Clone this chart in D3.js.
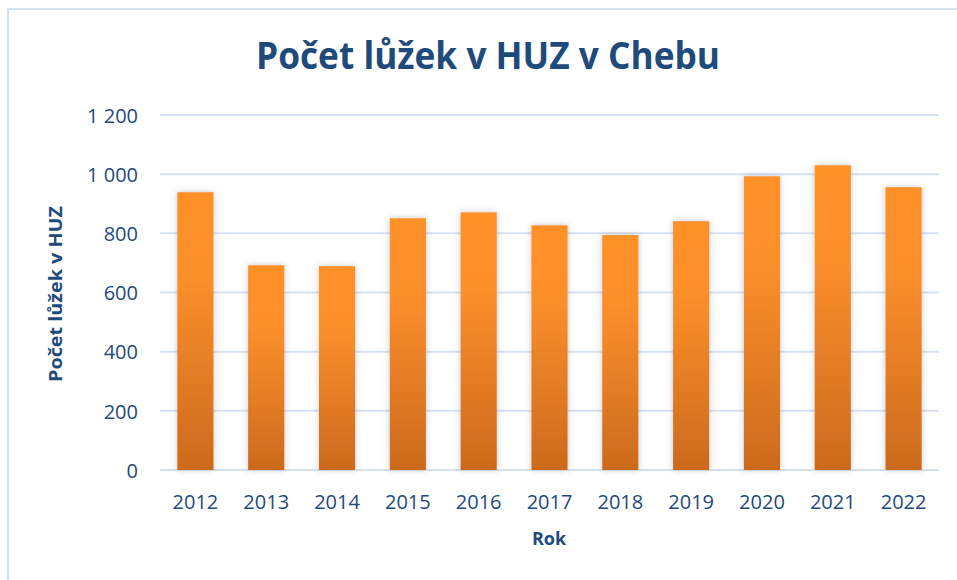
<!DOCTYPE html>
<html>
<head>
<meta charset="utf-8">
<script src="https://cdn.jsdelivr.net/npm/d3@7"></script>
<style>
  html, body { margin: 0; padding: 0; background: #fff; }
  svg { display: block; }
</style>
</head>
<body>
<div id="chart"></div>
<script>
const years = ['2012', '2013', '2014', '2015', '2016', '2017', '2018', '2019', '2020', '2021', '2022'];
const beds = [939, 692, 689, 851, 871, 827, 794, 841, 993, 1030, 956];
const yTicks = [0, 200, 400, 600, 800, 1000, 1200];

const width = 957, height = 580;
const margin = { top: 115, right: 18, bottom: 110, left: 160 };
const textColor = '#1f4a7c';
const font = "'Open Sans', sans-serif";

const svg = d3.select('#chart').append('svg')
  .attr('width', width)
  .attr('height', height)
  .attr('font-family', font);

const defs = svg.append('defs');
const grad = defs.append('linearGradient')
  .attr('id', 'barGrad')
  .attr('x1', 0).attr('y1', 0).attr('x2', 0).attr('y2', 1);
grad.append('stop').attr('offset', '0%').attr('stop-color', '#ff9128');
grad.append('stop').attr('offset', '30%').attr('stop-color', '#fb8f2b');
grad.append('stop').attr('offset', '100%').attr('stop-color', '#cc6a1e');

const shadow = defs.append('filter')
  .attr('id', 'shadow')
  .attr('x', '-30%').attr('y', '-10%').attr('width', '160%').attr('height', '120%');
shadow.append('feDropShadow')
  .attr('dx', 0).attr('dy', 0).attr('stdDeviation', 3)
  .attr('flood-color', '#5a6470').attr('flood-opacity', 0.35);

// chart border (only left/top visible in the picture)
svg.append('rect')
  .attr('x', 8).attr('y', 9)
  .attr('width', width).attr('height', height)
  .attr('fill', 'none')
  .attr('stroke', '#d5e1f1')
  .attr('stroke-width', 2);

const x = d3.scaleBand()
  .domain(years)
  .range([margin.left, width - margin.right])
  .paddingInner(0.49)
  .paddingOuter(0.245);

const y = d3.scaleLinear()
  .domain([0, 1200])
  .range([height - margin.bottom, margin.top]);

const fmt = v => d3.format(',')(v).replace(/,/g, ' ');

// gridlines
svg.append('g')
  .selectAll('line')
  .data(yTicks)
  .join('line')
  .attr('x1', margin.left)
  .attr('x2', width - margin.right)
  .attr('y1', d => y(d))
  .attr('y2', d => y(d))
  .attr('stroke', '#d6e2f0')
  .attr('stroke-width', 2);

// y axis labels
const yAxis = svg.append('g')
  .attr('transform', `translate(${margin.left - 22},0)`)
  .call(d3.axisLeft(y).tickValues(yTicks).tickFormat(fmt).tickSize(0).tickPadding(0));
yAxis.select('.domain').remove();
yAxis.selectAll('text')
  .attr('font-family', font)
  .attr('font-size', 20)
  .attr('fill', textColor)
  .attr('dy', '0.36em');

// bars
svg.append('g')
  .selectAll('rect')
  .data(years)
  .join('rect')
  .attr('x', d => x(d))
  .attr('width', x.bandwidth())
  .attr('y', (d, i) => y(beds[i]))
  .attr('height', (d, i) => y(0) - y(beds[i]))
  .attr('fill', 'url(#barGrad)')
  .attr('filter', 'url(#shadow)');

// x axis labels
const xAxis = svg.append('g')
  .attr('transform', `translate(0,${y(0)})`)
  .call(d3.axisBottom(x).tickSize(0).tickPadding(0));
xAxis.select('.domain').remove();
xAxis.selectAll('text')
  .attr('font-family', font)
  .attr('font-size', 20)
  .attr('fill', textColor)
  .attr('dy', 0)
  .attr('y', 39);

// title
svg.append('text')
  .attr('x', 488)
  .attr('y', 69)
  .attr('text-anchor', 'middle')
  .attr('font-size', 37)
  .attr('font-weight', 700)
  .attr('fill', textColor)
  .attr('textLength', 464)
  .attr('lengthAdjust', 'spacingAndGlyphs')
  .text('Počet lůžek v HUZ v Chebu');

// axis titles
svg.append('text')
  .attr('x', 549)
  .attr('y', 545)
  .attr('text-anchor', 'middle')
  .attr('font-size', 18)
  .attr('font-weight', 700)
  .attr('fill', textColor)
  .text('Rok');

svg.append('text')
  .attr('transform', 'translate(62,294) rotate(-90)')
  .attr('text-anchor', 'middle')
  .attr('font-size', 18)
  .attr('font-weight', 700)
  .attr('fill', textColor)
  .attr('textLength', 176)
  .attr('lengthAdjust', 'spacingAndGlyphs')
  .text('Počet lůžek v HUZ');
</script>
</body>
</html>
